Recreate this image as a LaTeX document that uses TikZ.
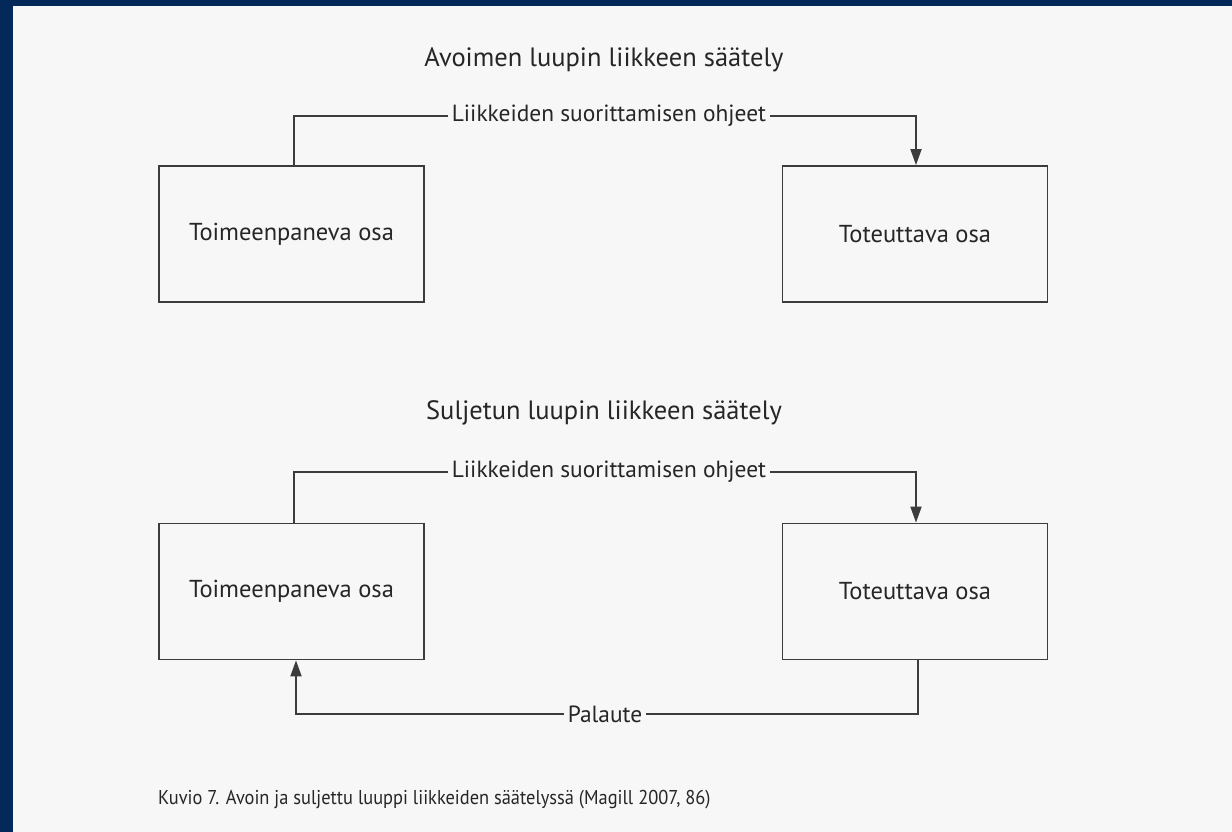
\documentclass[tikz,border=0pt]{standalone}
\usepackage{fontspec}
\setmainfont{PT Sans}
\usetikzlibrary{arrows.meta}
\definecolor{navy}{HTML}{03295A}
\definecolor{paper}{HTML}{F7F7F7}
\definecolor{ink}{HTML}{262626}
\definecolor{rule}{HTML}{3C3C3C}
\begin{document}
\begin{tikzpicture}[x=1pt,y=-1pt,
  box/.style={draw=rule,line width=1.8pt,minimum width=265pt,minimum height=136pt,
    text=ink,font=\fontsize{24.5}{28}\selectfont,inner sep=0pt},
  heading/.style={text=ink,font=\fontsize{26.5}{30}\selectfont,inner sep=0pt},
  flowlabel/.style={text=ink,font=\fontsize{23.4}{27}\selectfont,fill=paper,inner xsep=4pt,inner ysep=0pt},
  link/.style={draw=rule,line width=1.8pt},
  tip/.style={-{Triangle[length=16pt,width=11pt]}}]
% page and border
\fill[navy] (0,0) rectangle (1232,832);
\fill[paper] (13,6) rectangle (1232,832);
\useasboundingbox (0,0) rectangle (1232,832);

% open loop
\node[heading] (t1) at (604,60) {Avoimen luupin liikkeen säätely};
\node[box] (a1) at (291.5,234) {Toimeenpaneva osa};
\node[box] (b1) at (915,234) {Toteuttava osa};
\node[flowlabel] (l1) at (609,116) {Liikkeiden suorittamisen ohjeet};
\coordinate (a1up) at (294,116);
\coordinate (b1up) at (916,116);
\draw[link] (a1.north -| a1up) -- (a1up) -- (l1.west);
\draw[link,tip] (l1.east) -- (b1up) -- (b1.north -| b1up);

% closed loop
\node[heading] (t2) at (604,413) {Suljetun luupin liikkeen säätely};
\node[box] (a2) at (291.5,591.5) {Toimeenpaneva osa};
\node[box] (b2) at (915,591.5) {Toteuttava osa};
\node[flowlabel] (l2) at (609,472) {Liikkeiden suorittamisen ohjeet};
\coordinate (a2up) at (294,472);
\coordinate (b2up) at (916,472);
\draw[link] (a2.north -| a2up) -- (a2up) -- (l2.west);
\draw[link,tip] (l2.east) -- (b2up) -- (b2.north -| b2up);

\node[flowlabel] (fb) at (605,714) {Palaute};
\coordinate (b2dn) at (918,714);
\coordinate (a2dn) at (296,714);
\draw[link] (b2.south -| b2dn) -- (b2dn) -- (fb.east);
\draw[link,tip] (fb.west) -- (a2dn) -- (a2.south -| a2dn);

% caption
\node[text=ink,anchor=west,inner sep=0pt] (cap) at (158,800)
  {\scalebox{0.92}[1]{\fontsize{20}{24}\selectfont Kuvio 7. Avoin ja suljettu luuppi liikkeiden säätelyssä (Magill 2007, 86)}};
\end{tikzpicture}
\end{document}
